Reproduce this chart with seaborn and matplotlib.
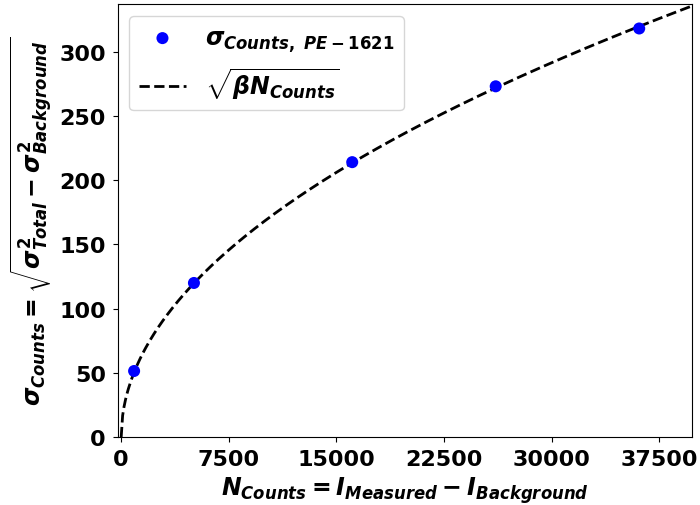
import numpy as np
import pandas as pd
import matplotlib
matplotlib.use('Agg')
import matplotlib.pyplot as plt
import seaborn as sns

# measured points
n_counts = [900, 5070, 16100, 26100, 36100]
sigma_counts = [51.5, 120, 214, 273, 318]

# fit constant for sigma = sqrt(beta * N)
beta = 2.83

x_ticks = [0, 7500, 15000, 22500, 30000, 37500]
y_ticks = [0, 50, 100, 150, 200, 250, 300]

plt.rcParams['font.family'] = ['DejaVu Sans']
plt.rcParams['font.weight'] = 'bold'
plt.rcParams['mathtext.fontset'] = 'custom'
plt.rcParams['mathtext.it'] = 'DejaVu Sans:italic:bold'
plt.rcParams['mathtext.rm'] = 'DejaVu Sans:bold'
plt.rcParams['mathtext.bf'] = 'DejaVu Sans:bold'

pts = pd.DataFrame({'N': n_counts, 'sigma': sigma_counts})
n_fit = np.linspace(0, 39800, 400)
fit = pd.DataFrame({'N': n_fit, 'sigma': np.sqrt(beta * n_fit)})

fig, ax = plt.subplots(figsize=(7, 5.06), dpi=100)
fig.subplots_adjust(left=0.168, right=0.989, bottom=0.134, top=0.99)

sns.scatterplot(data=pts, x='N', y='sigma', ax=ax, color='blue', s=75,
                edgecolor='none', zorder=3,
                label=r'$\sigma_{Counts,\ PE-1621}$')
sns.lineplot(data=fit, x='N', y='sigma', ax=ax, color='black', lw=2,
             linestyle='--', label=r'$\sqrt{\beta N_{Counts}}$')

ax.set_xlim(-250, 39800)
ax.set_ylim(0, 337)
ax.set_xticks(x_ticks)
ax.set_yticks(y_ticks)
ax.tick_params(labelsize=16, pad=5)
for lab in ax.get_xticklabels() + ax.get_yticklabels():
    lab.set_fontweight('bold')

ax.set_xlabel(r'$N_{Counts} = I_{Measured} - I_{Background}$', fontsize=17, labelpad=4)
ax.set_ylabel(r'$\sigma_{Counts} = \sqrt{\sigma^2_{Total} - \sigma^2_{Background}}$',
              fontsize=17, labelpad=3)

ax.legend(loc='upper left', fontsize=17)

plt.savefig('out.png', dpi=100)
